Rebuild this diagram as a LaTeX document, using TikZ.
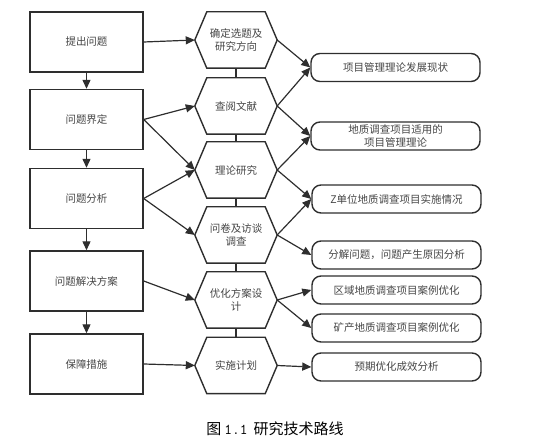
\documentclass[tikz,border=0pt]{standalone}
\usepackage{fontspec}
\newfontfamily\cjk{Noto Sans CJK SC}
\usetikzlibrary{arrows.meta,calc}
\definecolor{ln}{HTML}{2E2E2E}
\definecolor{tx}{HTML}{454545}
\tikzset{
  txt/.style={font=\cjk\fontsize{10.5}{12.5}\selectfont, text=tx, align=center, inner sep=0pt},
  lbox/.style={txt, draw=ln, line width=1.4pt, minimum width=113pt, minimum height=60pt},
  hexn/.style={txt, minimum width=82pt, minimum height=56pt},
  hexline/.style={draw=ln, line width=1.4pt, line join=miter},
  rbox/.style={txt, draw=ln, line width=1.4pt, rounded corners=9pt, minimum width=169pt, minimum height=28pt},
  arr/.style={draw=ln, line width=1.2pt, -{Triangle[length=9pt,width=8pt]}},
  conn/.style={draw=ln, line width=1.2pt}
}
\begin{document}
\begin{tikzpicture}[x=1pt,y=-1pt]
\useasboundingbox (0,0) rectangle (542,438);
% left boxes
\node[lbox] (b1) at (86.5,42) {提出问题};
\node[lbox] (b2) at (86.5,119.5) {问题界定};
\node[lbox] (b3) at (86.5,198.5) {问题分析};
\node[lbox] (b4) at (86.5,281) {问题解决方案};
\node[lbox] (b5) at (86.5,364) {保障措施};
% hexagons
\node[hexn] (h1) at (236,40) {确定选题及\\研究方向};
\node[hexn] (h2) at (236,106) {查阅文献};
\node[hexn] (h3) at (236,170) {理论研究};
\node[hexn] (h4) at (236,235) {问卷及访谈\\调查};
\node[hexn] (h5) at (236,300) {优化方案设\\计};
\node[hexn] (h6) at (236,365.5) {实施计划};
\foreach \n in {h1,h2,h3,h4,h5,h6}
  \draw[hexline] (\n.west) -- ([xshift=12pt]\n.north west) -- ([xshift=-12pt]\n.north east)
    -- (\n.east) -- ([xshift=-12pt]\n.south east) -- ([xshift=12pt]\n.south west) -- cycle;
% right rounded boxes
\node[rbox] (r1) at (395.5,67.5) {项目管理理论发展现状};
\node[rbox] (r2) at (395.5,136) {地质调查项目适用的\\项目管理理论};
\node[rbox] (r3) at (396.5,199) {Z单位地质调查项目实施情况};
\node[rbox] (r4) at (396.5,255) {分解问题，问题产生原因分析};
\node[rbox] (r5) at (396.5,290) {区域地质调查项目案例优化};
\node[rbox] (r6) at (396.5,328) {矿产地质调查项目案例优化};
\node[rbox] (r7) at (396.5,367) {预期优化成效分析};
% vertical arrows left column
\draw[arr] (b1) -- (b2);
\draw[arr] (b2) -- (b3);
\draw[arr] (b3) -- (b4);
\draw[arr] (b4) -- (b5);
% hex vertical links
\draw[conn] (h1.south) -- (h2.north);
\draw[conn] (h2.south) -- (h3.north);
\draw[conn] (h3.south) -- (h4.north);
\draw[conn] (h4.south) -- (h5.north);
\draw[conn] (h5.south) -- (h6.north);
% left to hex
\draw[arr] (b1.east) -- (h1.west);
\draw[arr] (b2.east) -- (h2.west);
\draw[arr] (b2.east) -- (h3.west);
\draw[arr] (b3.east) -- (h3.west);
\draw[arr] (b3.east) -- (h4.west);
\draw[arr] (b4.east) -- (h5.west);
\draw[arr] (b5.east) -- (h6.west);
% hex to right
\draw[arr] (h1.east) -- (r1.west);
\draw[arr] (h2.east) -- (r1.west);
\draw[arr] (h2.east) -- (r2.west);
\draw[arr] (h3.east) -- (r2.west);
\draw[arr] (h3.east) -- (r3.west);
\draw[arr] (h4.east) -- (r3.west);
\draw[arr] (h4.east) -- (r4.west);
\draw[arr] (h5.east) -- (r5.west);
\draw[arr] (h5.east) -- (r6.west);
\draw[arr] (h6.east) -- (r7.west);
% caption
\node[inner sep=0pt, text=black, font=\cjk\fontsize{15}{18}\selectfont] (cap) at (275,429)
  {图\hspace{3pt}{\ttfamily 1.1}\hspace{6pt}研究技术路线};
\end{tikzpicture}
\end{document}
